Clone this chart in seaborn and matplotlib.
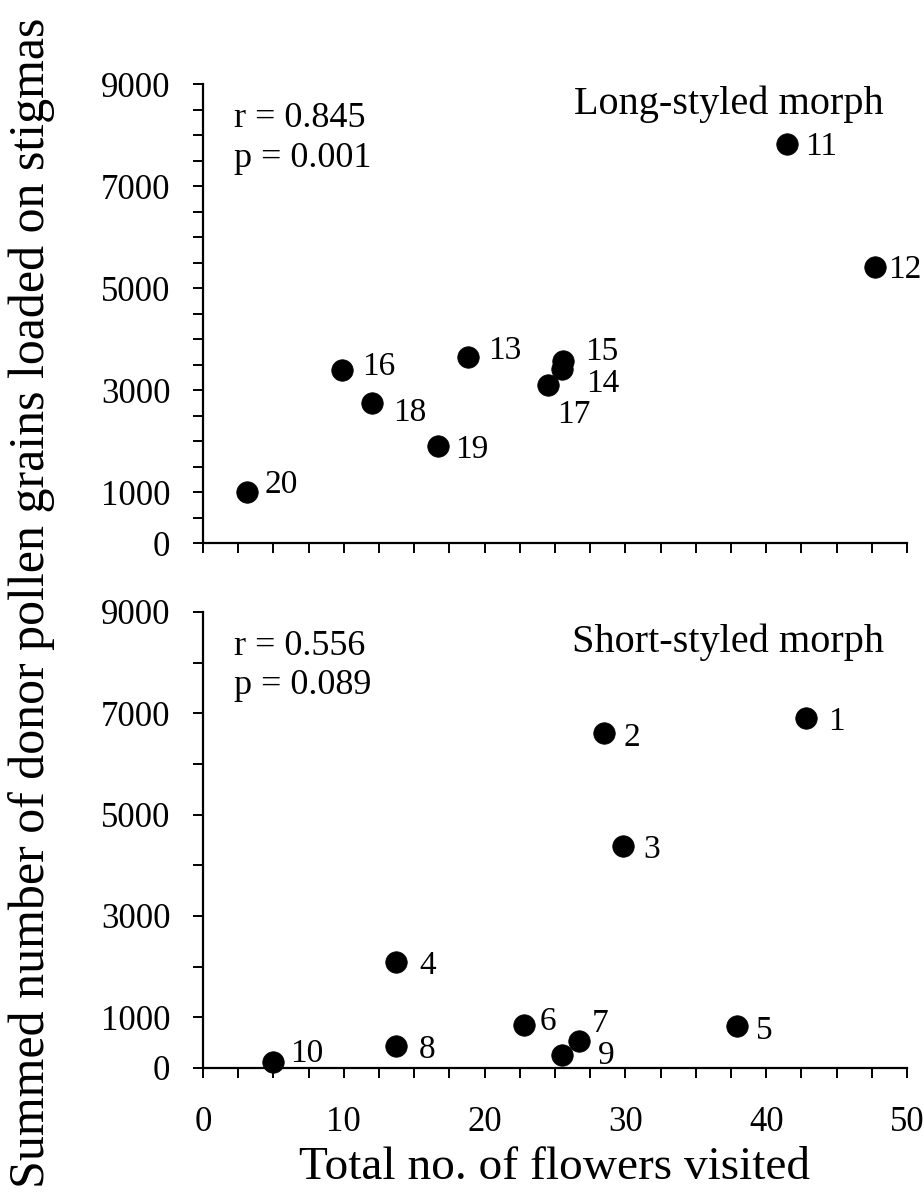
import numpy as np
import matplotlib
matplotlib.use('Agg')
import matplotlib.pyplot as plt
import seaborn as sns
import pandas as pd

# long-styled morph (plants 11-20)
long_id = [11, 12, 13, 14, 15, 16, 17, 18, 19, 20]
long_flowers = [41.5, 47.7, 18.8, 25.5, 25.6, 9.9, 24.5, 12.0, 16.7, 3.1]
long_pollen = [7830, 5420, 3640, 3410, 3560, 3390, 3105, 2745, 1910, 1000]

# short-styled morph (plants 1-10)
short_id = [1, 2, 3, 4, 5, 6, 7, 8, 9, 10]
short_flowers = [42.8, 28.5, 29.8, 13.7, 37.9, 22.8, 26.7, 13.7, 25.5, 4.95]
short_pollen = [6900, 6620, 4375, 2090, 830, 855, 525, 435, 265, 120]

# label offsets (pixels) for the point numbers
long_offsets = {11: (18, 0), 12: (14, 0), 13: (20, 10), 14: (24, -11), 15: (22, 13),
                16: (20, 7), 17: (9, -27), 18: (21, -6), 19: (17, -1), 20: (18, 11)}
short_offsets = {1: (23, 0), 2: (19, -2), 3: (21, 0), 4: (23, 0), 5: (19, -1),
                 6: (16, 6), 7: (13, 21), 8: (23, 0), 9: (36, 2), 10: (17, 12)}

sns.set_theme(style='ticks')
plt.rcParams['font.family'] = ['Liberation Serif', 'DejaVu Serif']
for key in ['text.color', 'axes.labelcolor', 'xtick.color', 'ytick.color', 'axes.edgecolor']:
    plt.rcParams[key] = 'black'
plt.rcParams['axes.linewidth'] = 1.6

fig = plt.figure(figsize=(9.24, 11.99), dpi=100)
ax_top = fig.add_axes([0.2197, 0.5471, 0.7619, 0.3828])
ax_bot = fig.add_axes([0.2197, 0.1093, 0.7619, 0.3803])

df_long = pd.DataFrame({'id': long_id, 'flowers': long_flowers, 'pollen': long_pollen})
df_short = pd.DataFrame({'id': short_id, 'flowers': short_flowers, 'pollen': short_pollen})

panels = [
    (ax_top, df_long, long_offsets, 'Long-styled morph', 'r = 0.845', 'p = 0.001', 500, 0.966),
    (ax_bot, df_short, short_offsets, 'Short-styled morph', 'r = 0.556', 'p = 0.089', 1000, 0.944),
]

for ax, df, offs, title, rtxt, ptxt, ystep, ty in panels:
    sns.scatterplot(data=df, x='flowers', y='pollen', ax=ax, color='black',
                    s=240, edgecolor='black', linewidth=0.5, zorder=3, clip_on=False)
    for _, row in df.iterrows():
        dx, dy = offs[int(row['id'])]
        ax.annotate(str(int(row['id'])), (row['flowers'], row['pollen']),
                    xytext=(dx, dy), textcoords='offset pixels',
                    ha='left', va='center_baseline', fontsize=24)
    ax.set_xlim(0, 50)
    ax.set_ylim(0, 9000)
    ax.set_yticks([0, 1000, 3000, 5000, 7000, 9000])
    ax.set_yticks(np.arange(0, 9001, ystep), minor=True)
    ax.set_xticks(np.arange(0, 51, 10))
    ax.set_xticks(np.arange(0, 50.1, 2.5), minor=True)
    ax.tick_params(axis='y', which='both', direction='out', length=7.5, width=1.4,
                   labelsize=25, pad=16)
    ax.tick_params(axis='x', which='both', direction='out', length=7.5, width=1.4,
                   labelsize=25, pad=20)
    sns.despine(ax=ax)
    ax.set_xlabel('')
    ax.set_ylabel('')
    ax.text(0.044, 0.933, rtxt, transform=ax.transAxes, fontsize=26,
            va='center_baseline', ha='left')
    ax.text(0.044, 0.847, ptxt, transform=ax.transAxes, fontsize=26,
            va='center_baseline', ha='left')
    ax.text(0.967, ty, title, transform=ax.transAxes, fontsize=29,
            va='center_baseline', ha='right')

ax_top.tick_params(axis='x', labelbottom=False)

fig.text(0.034, 0.497, 'Summed number of donor pollen grains loaded on stigmas',
         rotation=90, ha='center', va='center', fontsize=36)
fig.text(0.6, 0.026, 'Total no. of flowers visited', ha='center', va='center', fontsize=34)

plt.savefig('out.png', dpi=100)
